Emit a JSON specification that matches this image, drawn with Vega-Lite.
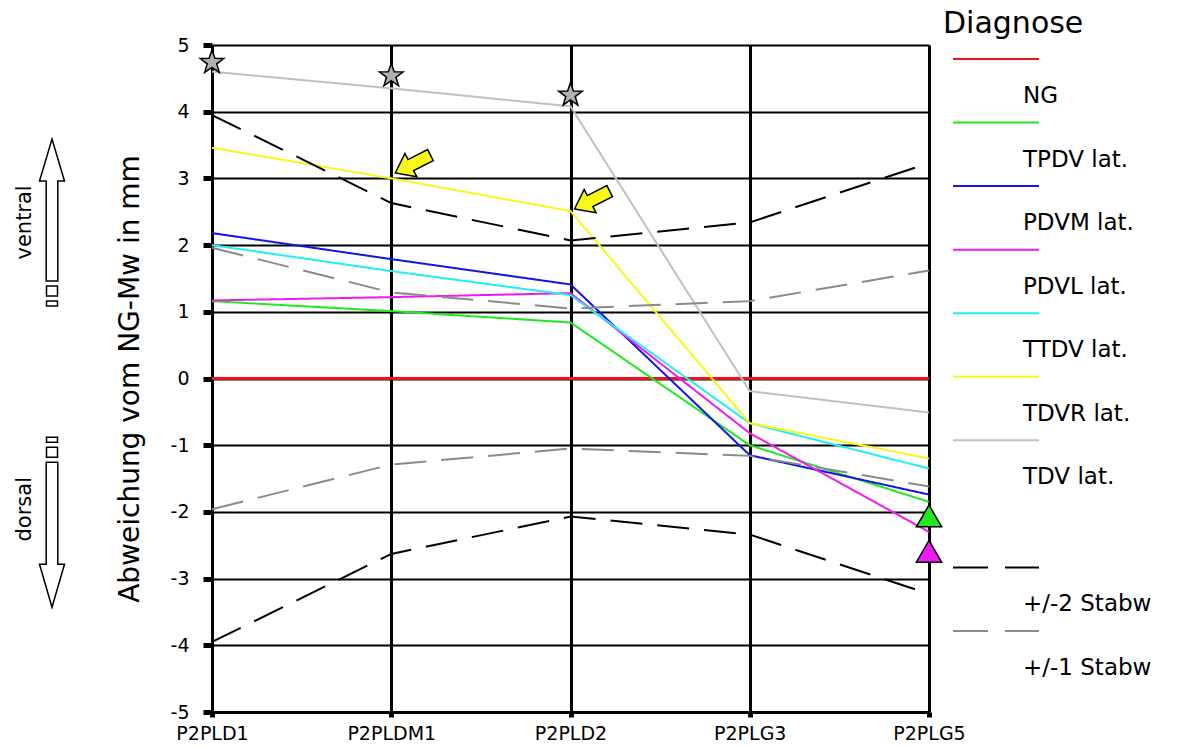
{
  "$schema": "https://vega.github.io/schema/vega-lite/v6.json",
  "padding": {"left": 14, "top": 9, "right": 0, "bottom": 0},
  "background": "white",
  "bounds": "flush",
  "spacing": 160,
  "config": {
    "view": {"stroke": null},
    "font": "DejaVu Sans"
  },
  "resolve": {"scale": {"x": "independent", "y": "independent", "color": "independent", "strokeDash": "independent", "shape": "independent"}},
  "datasets": {
    "side": [
      {"kind": "text", "label": "ventral", "value": 2.34},
      {"kind": "text", "label": "dorsal", "value": -1.96},
      {"kind": "arrow", "dir": "up", "value": 3.59},
      {"kind": "arrow", "dir": "down", "value": -3.43}
    ],
    "lines": [
      {"series": "NG", "line": "NG", "pos": "P2PLD1", "value": 0},
      {"series": "NG", "line": "NG", "pos": "P2PLDM1", "value": 0},
      {"series": "NG", "line": "NG", "pos": "P2PLD2", "value": 0},
      {"series": "NG", "line": "NG", "pos": "P2PLG3", "value": 0},
      {"series": "NG", "line": "NG", "pos": "P2PLG5", "value": 0},
      {"series": "TPDV lat.", "line": "TPDV lat.", "pos": "P2PLD1", "value": 1.16},
      {"series": "TPDV lat.", "line": "TPDV lat.", "pos": "P2PLDM1", "value": 1.01},
      {"series": "TPDV lat.", "line": "TPDV lat.", "pos": "P2PLD2", "value": 0.84},
      {"series": "TPDV lat.", "line": "TPDV lat.", "pos": "P2PLG3", "value": -1.0},
      {"series": "TPDV lat.", "line": "TPDV lat.", "pos": "P2PLG5", "value": -1.85},
      {"series": "PDVM lat.", "line": "PDVM lat.", "pos": "P2PLD1", "value": 2.18},
      {"series": "PDVM lat.", "line": "PDVM lat.", "pos": "P2PLDM1", "value": 1.79},
      {"series": "PDVM lat.", "line": "PDVM lat.", "pos": "P2PLD2", "value": 1.41},
      {"series": "PDVM lat.", "line": "PDVM lat.", "pos": "P2PLG3", "value": -1.15},
      {"series": "PDVM lat.", "line": "PDVM lat.", "pos": "P2PLG5", "value": -1.74},
      {"series": "PDVL lat.", "line": "PDVL lat.", "pos": "P2PLD1", "value": 1.17},
      {"series": "PDVL lat.", "line": "PDVL lat.", "pos": "P2PLDM1", "value": 1.22},
      {"series": "PDVL lat.", "line": "PDVL lat.", "pos": "P2PLD2", "value": 1.28},
      {"series": "PDVL lat.", "line": "PDVL lat.", "pos": "P2PLG3", "value": -0.82},
      {"series": "PDVL lat.", "line": "PDVL lat.", "pos": "P2PLG5", "value": -2.3},
      {"series": "TTDV lat.", "line": "TTDV lat.", "pos": "P2PLD1", "value": 2.0},
      {"series": "TTDV lat.", "line": "TTDV lat.", "pos": "P2PLDM1", "value": 1.61},
      {"series": "TTDV lat.", "line": "TTDV lat.", "pos": "P2PLD2", "value": 1.25},
      {"series": "TTDV lat.", "line": "TTDV lat.", "pos": "P2PLG3", "value": -0.67},
      {"series": "TTDV lat.", "line": "TTDV lat.", "pos": "P2PLG5", "value": -1.35},
      {"series": "TDVR lat.", "line": "TDVR lat.", "pos": "P2PLD1", "value": 3.46},
      {"series": "TDVR lat.", "line": "TDVR lat.", "pos": "P2PLDM1", "value": 3.0},
      {"series": "TDVR lat.", "line": "TDVR lat.", "pos": "P2PLD2", "value": 2.51},
      {"series": "TDVR lat.", "line": "TDVR lat.", "pos": "P2PLG3", "value": -0.67},
      {"series": "TDVR lat.", "line": "TDVR lat.", "pos": "P2PLG5", "value": -1.2},
      {"series": "TDV lat.", "line": "TDV lat.", "pos": "P2PLD1", "value": 4.6},
      {"series": "TDV lat.", "line": "TDV lat.", "pos": "P2PLDM1", "value": 4.35},
      {"series": "TDV lat.", "line": "TDV lat.", "pos": "P2PLD2", "value": 4.08},
      {"series": "TDV lat.", "line": "TDV lat.", "pos": "P2PLG3", "value": -0.19},
      {"series": "TDV lat.", "line": "TDV lat.", "pos": "P2PLG5", "value": -0.51},
      {"series": "+/-2 Stabw", "line": "+2", "pos": "P2PLD1", "value": 3.95},
      {"series": "+/-2 Stabw", "line": "+2", "pos": "P2PLDM1", "value": 2.63},
      {"series": "+/-2 Stabw", "line": "+2", "pos": "P2PLD2", "value": 2.07},
      {"series": "+/-2 Stabw", "line": "+2", "pos": "P2PLG3", "value": 2.34},
      {"series": "+/-2 Stabw", "line": "+2", "pos": "P2PLG5", "value": 3.23},
      {"series": "+/-2 Stabw", "line": "-2", "pos": "P2PLD1", "value": -3.95},
      {"series": "+/-2 Stabw", "line": "-2", "pos": "P2PLDM1", "value": -2.63},
      {"series": "+/-2 Stabw", "line": "-2", "pos": "P2PLD2", "value": -2.07},
      {"series": "+/-2 Stabw", "line": "-2", "pos": "P2PLG3", "value": -2.34},
      {"series": "+/-2 Stabw", "line": "-2", "pos": "P2PLG5", "value": -3.23},
      {"series": "+/-1 Stabw", "line": "+1", "pos": "P2PLD1", "value": 1.96},
      {"series": "+/-1 Stabw", "line": "+1", "pos": "P2PLDM1", "value": 1.29},
      {"series": "+/-1 Stabw", "line": "+1", "pos": "P2PLD2", "value": 1.05},
      {"series": "+/-1 Stabw", "line": "+1", "pos": "P2PLG3", "value": 1.16},
      {"series": "+/-1 Stabw", "line": "+1", "pos": "P2PLG5", "value": 1.62},
      {"series": "+/-1 Stabw", "line": "-1", "pos": "P2PLD1", "value": -1.96},
      {"series": "+/-1 Stabw", "line": "-1", "pos": "P2PLDM1", "value": -1.29},
      {"series": "+/-1 Stabw", "line": "-1", "pos": "P2PLD2", "value": -1.05},
      {"series": "+/-1 Stabw", "line": "-1", "pos": "P2PLG3", "value": -1.16},
      {"series": "+/-1 Stabw", "line": "-1", "pos": "P2PLG5", "value": -1.62}
    ],
    "markers": [
      {"type": "star", "pos": "P2PLD1", "value": 4.74},
      {"type": "star", "pos": "P2PLDM1", "value": 4.54},
      {"type": "star", "pos": "P2PLD2", "value": 4.25},
      {"type": "triangle", "series": "TPDV lat.", "pos": "P2PLG5", "value": -2.06},
      {"type": "triangle", "series": "PDVL lat.", "pos": "P2PLG5", "value": -2.59},
      {"type": "arrow", "pos": "P2PLDM1", "value": 3.05},
      {"type": "arrow", "pos": "P2PLD2", "value": 2.51}
    ],
    "legend": [
      {"series": "NG", "slot": 0},
      {"series": "TPDV lat.", "slot": 1},
      {"series": "PDVM lat.", "slot": 2},
      {"series": "PDVL lat.", "slot": 3},
      {"series": "TTDV lat.", "slot": 4},
      {"series": "TDVR lat.", "slot": 5},
      {"series": "TDV lat.", "slot": 6},
      {"series": "+/-2 Stabw", "slot": 8},
      {"series": "+/-1 Stabw", "slot": 9}
    ]
  },
  "hconcat": [
    {
      "width": 27,
      "height": 667,
      "data": {"name": "side"},
      "layer": [
        {
          "transform": [{"filter": "datum.kind === 'text'"}],
          "mark": {"type": "text", "angle": 270, "font": "DejaVu Sans", "fontSize": 21, "color": "black", "align": "center", "baseline": "middle"},
          "encoding": {
            "x": {"field": "kind", "type": "nominal", "scale": {"type": "point", "domain": ["text", "arrow"], "padding": 0}, "axis": null},
            "y": {"field": "value", "type": "quantitative", "scale": {"domain": [-5, 5]}, "axis": null},
            "text": {"field": "label"}
          }
        },
        {
          "transform": [{"filter": "datum.kind === 'arrow'"}],
          "mark": {"type": "point", "filled": true, "fill": "white", "stroke": "black", "strokeWidth": 1.5, "size": 400, "opacity": 1},
          "encoding": {
            "x": {"field": "kind", "type": "nominal", "scale": {"type": "point", "domain": ["text", "arrow"], "padding": 0}, "axis": null},
            "y": {"field": "value", "type": "quantitative", "scale": {"domain": [-5, 5]}, "axis": null},
            "shape": {"field": "dir", "type": "nominal", "legend": null, "scale": {"domain": ["up", "down"], "range": [
              "M0,0 L1.25,4.2 L0.58,4.2 L0.58,14.2 L-0.58,14.2 L-0.58,4.2 L-1.25,4.2 Z M-0.55,14.7 L0.55,14.7 L0.55,15.7 L-0.55,15.7 Z M-0.55,16.2 L0.55,16.2 L0.55,16.7 L-0.55,16.7 Z",
              "M0,0 L1.25,-4.3 L0.58,-4.3 L0.58,-14.5 L-0.58,-14.5 L-0.58,-4.3 L-1.25,-4.3 Z M-0.55,-15 L0.55,-15 L0.55,-16 L-0.55,-16 Z M-0.55,-16.5 L0.55,-16.5 L0.55,-17 L-0.55,-17 Z"
            ]}}
          }
        }
      ]
    },
    {
      "bounds": "flush",
      "spacing": 24,
      "resolve": {"scale": {"x": "independent", "y": "independent", "color": "independent", "strokeDash": "independent"}},
      "hconcat": [
        {
          "width": 717,
          "height": 667,
          "layer": [
            {
              "data": {"name": "lines"},
              "mark": {"type": "line"},
              "encoding": {
                "x": {"field": "pos", "type": "nominal", "sort": null,
                  "scale": {"type": "point", "padding": 0, "domain": ["P2PLD1", "P2PLDM1", "P2PLD2", "P2PLG3", "P2PLG5"]},
                  "axis": {"title": null, "labelAngle": 0, "labelFont": "DejaVu Sans", "labelFontSize": 19, "labelColor": "black", "labelPadding": 7, "labelOverlap": false, "labelFlush": false, "tickSize": 5, "tickWidth": 5, "tickColor": "black", "domainColor": "black", "domainWidth": 3, "grid": true, "gridColor": "black", "gridWidth": 3, "gridOpacity": 1}},
                "y": {"field": "value", "type": "quantitative",
                  "scale": {"domain": [-5, 5], "nice": false},
                  "axis": {"title": "Abweichung vom NG-Mw in mm", "titleFont": "DejaVu Sans", "titleFontSize": 28, "titleFontWeight": "normal", "titleColor": "black", "titlePadding": 26, "values": [-5, -4, -3, -2, -1, 0, 1, 2, 3, 4, 5],
                    "labelExpr": "datum.value < 0 ? '-' + abs(datum.value) : '' + datum.value",
                    "labelFont": "DejaVu Sans", "labelFontSize": 19, "labelColor": "black", "labelPadding": 14, "labelOverlap": false, "labelFlush": false, "tickSize": 9, "tickWidth": 5, "tickColor": "black", "domainColor": "black", "domainWidth": 3, "grid": true, "gridColor": "black", "gridWidth": 2, "gridOpacity": 1}},
                "color": {"field": "series", "type": "nominal", "legend": null,
                  "scale": {"domain": ["NG", "TPDV lat.", "PDVM lat.", "PDVL lat.", "TTDV lat.", "TDVR lat.", "TDV lat.", "+/-2 Stabw", "+/-1 Stabw"],
                    "range": ["#e8161c", "#22e822", "#1414e6", "#f01af0", "#1ef0f0", "#f8f81a", "#c0c0c0", "#000000", "#8a8a8a"]}},
                "strokeDash": {"field": "series", "type": "nominal", "legend": null,
                  "scale": {"domain": ["NG", "TPDV lat.", "PDVM lat.", "PDVL lat.", "TTDV lat.", "TDVR lat.", "TDV lat.", "+/-2 Stabw", "+/-1 Stabw"],
                    "range": [[1, 0], [1, 0], [1, 0], [1, 0], [1, 0], [1, 0], [1, 0], [32, 15], [32, 15]]}},
                "strokeWidth": {"condition": {"test": "datum.series === 'NG'", "value": 3}, "value": 2},
                "detail": {"field": "line"},
                "order": {"value": null}
              }
            },
            {
              "data": {"name": "markers"},
              "transform": [{"filter": "datum.type === 'star'"}],
              "mark": {"type": "point", "filled": true, "fill": "#b0b0b0", "stroke": "black", "strokeWidth": 1.5, "opacity": 1, "size": 620,
                "shape": "M0,-1 L0.235,-0.324 L0.951,-0.309 L0.38,0.124 L0.588,0.809 L0,0.4 L-0.588,0.809 L-0.38,0.124 L-0.951,-0.309 L-0.235,-0.324 Z"},
              "encoding": {
                "x": {"field": "pos", "type": "nominal"},
                "y": {"field": "value", "type": "quantitative"}
              }
            },
            {
              "data": {"name": "markers"},
              "transform": [{"filter": "datum.type === 'arrow'"}],
              "mark": {"type": "point", "filled": true, "fill": "#f8f81a", "stroke": "black", "strokeWidth": 1.5, "opacity": 1, "size": 400, "angle": 333,
                "shape": "M0.45,0 L2.2,-1.3 L2.2,-0.62 L4.4,-0.62 L4.4,0.62 L2.2,0.62 L2.2,1.3 Z"},
              "encoding": {
                "x": {"field": "pos", "type": "nominal"},
                "y": {"field": "value", "type": "quantitative"}
              }
            },
            {
              "data": {"name": "markers"},
              "transform": [{"filter": "datum.type === 'triangle'"}],
              "mark": {"type": "point", "filled": true, "stroke": "black", "strokeWidth": 1.5, "opacity": 1, "size": 640, "shape": "triangle-up"},
              "encoding": {
                "x": {"field": "pos", "type": "nominal"},
                "y": {"field": "value", "type": "quantitative"},
                "color": {"field": "series", "type": "nominal", "legend": null}
              }
            }
          ]
        },
        {
          "width": 86,
          "height": 600,
          "title": {"text": "Diagnose", "anchor": "start", "frame": "group", "font": "DejaVu Sans", "fontSize": 30, "fontWeight": "normal", "color": "black", "dx": -10, "offset": 6},
          "data": {"name": "legend"},
          "layer": [
            {
              "mark": {"type": "rule", "strokeWidth": 2},
              "encoding": {
                "y": {"field": "slot", "type": "ordinal", "scale": {"type": "point", "domain": [0, 1, 2, 3, 4, 5, 6, 7, 8, 9], "padding": 0.22}, "axis": null},
                "x": {"datum": 0, "type": "quantitative", "scale": {"domain": [0, 1]}, "axis": null},
                "x2": {"datum": 1},
                "color": {"field": "series", "type": "nominal", "legend": null,
                  "scale": {"domain": ["NG", "TPDV lat.", "PDVM lat.", "PDVL lat.", "TTDV lat.", "TDVR lat.", "TDV lat.", "+/-2 Stabw", "+/-1 Stabw"],
                    "range": ["#e8161c", "#22e822", "#1414e6", "#f01af0", "#1ef0f0", "#f8f81a", "#c0c0c0", "#000000", "#8a8a8a"]}},
                "strokeDash": {"field": "series", "type": "nominal", "legend": null,
                  "scale": {"domain": ["NG", "TPDV lat.", "PDVM lat.", "PDVL lat.", "TTDV lat.", "TDVR lat.", "TDV lat.", "+/-2 Stabw", "+/-1 Stabw"],
                    "range": [[1, 0], [1, 0], [1, 0], [1, 0], [1, 0], [1, 0], [1, 0], [35, 17], [35, 17]]}}
              }
            },
            {
              "mark": {"type": "text", "align": "left", "baseline": "middle", "dx": -16, "dy": 37, "font": "DejaVu Sans", "fontSize": 23, "color": "black"},
              "encoding": {
                "y": {"field": "slot", "type": "ordinal", "scale": {"type": "point", "domain": [0, 1, 2, 3, 4, 5, 6, 7, 8, 9], "padding": 0.22}, "axis": null},
                "x": {"datum": 1, "type": "quantitative", "scale": {"domain": [0, 1]}, "axis": null},
                "text": {"field": "series"}
              }
            }
          ]
        }
      ]
    }
  ]
}
